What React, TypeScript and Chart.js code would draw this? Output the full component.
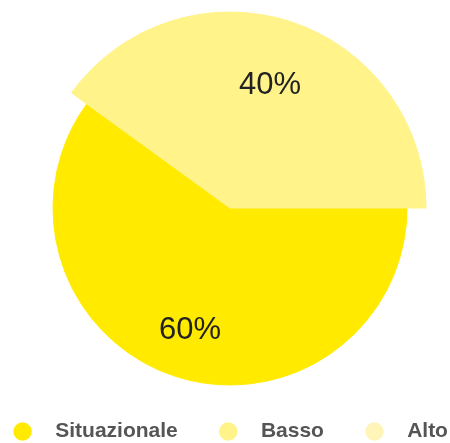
import React, { useEffect, useRef } from "react";
import { Chart, registerables } from "chart.js";

Chart.register(...registerables);

const categories = ["Situazionale", "Basso", "Alto"];
const values = [60, 40, 0];
const colors = ["#FFEA00", "#FFF38A", "#FFF5B8"];
const raisedSlice = 1;

const FONT = '"Liberation Sans", Arial, Helvetica, sans-serif';

const sliceLabels = {
  id: "sliceLabels",
  afterDatasetsDraw(chart: any) {
    const meta = chart.getDatasetMeta(1);
    const ctx = chart.ctx;
    ctx.save();
    ctx.font = `31px ${FONT}`;
    ctx.fillStyle = "#222";
    ctx.textAlign = "center";
    ctx.textBaseline = "middle";
    meta.data.forEach((arc: any, i: number) => {
      const v = values[i];
      if (!v) return;
      const { x, y, startAngle, endAngle, outerRadius } = arc.getProps(
        ["x", "y", "startAngle", "endAngle", "outerRadius"],
        true
      );
      const mid = (startAngle + endAngle) / 2;
      const r = outerRadius * 0.73;
      ctx.fillText(`${v}%`, x + Math.cos(mid) * r, y + Math.sin(mid) * r);
    });
    ctx.restore();
  },
};

export default function App() {
  const ref = useRef<HTMLCanvasElement | null>(null);

  useEffect(() => {
    if (!ref.current) return;
    const outerColors = colors.map((c, i) => (i === raisedSlice ? c : "rgba(0,0,0,0)"));
    const chart = new Chart(ref.current, {
      type: "pie",
      data: {
        labels: categories,
        datasets: [
          {
            data: values,
            backgroundColor: outerColors,
            borderColor: outerColors,
            borderWidth: 1,
            weight: 19,
            hoverOffset: 0,
          },
          {
            data: values,
            backgroundColor: colors,
            borderColor: colors,
            borderWidth: 1,
            weight: 177,
            hoverOffset: 0,
          },
        ],
      },
      options: {
        responsive: false,
        animation: false,
        rotation: 90,
        radius: 196,
        layout: { padding: 0 },
        plugins: {
          tooltip: { enabled: false },
          legend: {
            position: "bottom",
            labels: {
              usePointStyle: true,
              pointStyle: "circle",
              boxWidth: 21,
              boxHeight: 13,
              padding: 5,
              color: "#555",
              font: { family: FONT, size: 21, weight: "bold" },
              generateLabels: () =>
                categories.map((name, i) => ({
                  text: "  " + name + (i < categories.length - 1 ? "      " : ""),
                  fillStyle: colors[i],
                  strokeStyle: colors[i],
                  lineWidth: 0,
                  pointStyle: "circle",
                  hidden: false,
                  index: i,
                  fontColor: "#555",
                })),
            },
          },
        },
      },
      plugins: [sliceLabels],
    });
    return () => chart.destroy();
  }, []);

  return (
    <div
      style={{
        position: "absolute",
        left: 0,
        top: 0,
        width: 450,
        height: 443,
        overflow: "hidden",
        background: "#fff",
      }}
    >
      <canvas ref={ref} width={460} height={452} style={{ display: "block" }} />
    </div>
  );
}
